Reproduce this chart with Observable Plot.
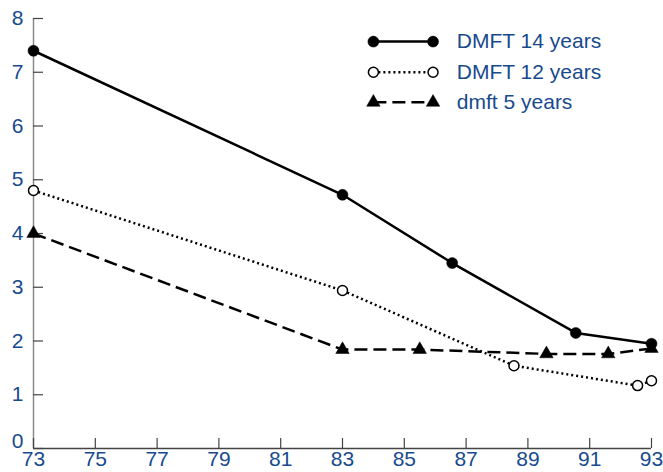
<!DOCTYPE html>
<html>
<head>
<meta charset="utf-8">
<script src="https://cdn.jsdelivr.net/npm/d3@7"></script>
<script src="https://cdn.jsdelivr.net/npm/@observablehq/plot@0.6"></script>
<style>
  body { margin: 0; background: #fff; }
  #chart svg { display: block; }
</style>
</head>
<body>
<div id="chart"></div>
<script>
// ---- data ----
const seriesNames = ["DMFT 14 years", "DMFT 12 years", "dmft 5 years"];
const years14 = [73, 83, 86.55, 90.55, 93];
const values14 = [7.4, 4.72, 3.45, 2.15, 1.95];
const years12 = [73, 83, 88.55, 92.55, 93];
const values12 = [4.8, 2.94, 1.54, 1.17, 1.26];
const years5 = [73, 83, 85.5, 89.6, 91.6, 93];
const values5 = [4.0, 1.84, 1.84, 1.76, 1.76, 1.86];
const xTicks = [73, 75, 77, 79, 81, 83, 85, 87, 89, 91, 93];
const yTicks = [0, 1, 2, 3, 4, 5, 6, 7, 8];

// ---- styling / layout ----
const textColor = "#184a8e";
const font = "'Liberation Sans', Arial, sans-serif";
const styles = {
  "DMFT 14 years": {dash: null, symbol: "circle", fill: "black", r: 5.5},
  "DMFT 12 years": {dash: "2,3", symbol: "circle", fill: "white", r: 5},
  "dmft 5 years": {dash: "13,6", symbol: "triangle", fill: "black", r: 5}
};
// legend placement in data space (top-right)
const legendX1 = 84.0, legendX2 = 85.93, legendTextX = 86.7;
const legendY = [7.57, 7.0, 6.44];

const data = [];
years14.forEach((x, i) => data.push({series: seriesNames[0], x, y: values14[i]}));
years12.forEach((x, i) => data.push({series: seriesNames[1], x, y: values12[i]}));
years5.forEach((x, i) => data.push({series: seriesNames[2], x, y: values5[i]}));

const legend = [];
seriesNames.forEach((s, i) => {
  legend.push({series: s, x: legendX1, y: legendY[i]});
  legend.push({series: s, x: legendX2, y: legendY[i]});
});
const legendText = seriesNames.map((s, i) => ({series: s, x: legendTextX, y: legendY[i]}));

const marks = [
  // axis lines
  Plot.ruleX([73], {y1: 0, y2: 8, stroke: "#8a8a8a", strokeWidth: 1.5}),
  Plot.ruleY([0], {x1: 73, x2: 93, stroke: "#444", strokeWidth: 1.5}),
  // inward ticks
  Plot.ruleY(yTicks, {x1: 73, x2: 73 + 10 / 30.9, stroke: "#444", strokeWidth: 1.2}),
  Plot.ruleX(xTicks, {y1: 0, y2: 10 / 53.75, stroke: "#444", strokeWidth: 1.2}),
  // axis labels
  Plot.axisX({ticks: xTicks, tickSize: 0, tickPadding: 3, fontSize: 21, tickFormat: d => String(d), color: textColor, label: null}),
  Plot.axisY({ticks: yTicks.filter(t => t !== 0), tickSize: 0, tickPadding: 10, fontSize: 21, tickFormat: d => String(d), color: textColor, label: null}),
  Plot.axisY({ticks: [0], tickSize: 0, tickPadding: 10, dy: -7, fontSize: 21, tickFormat: d => String(d), color: textColor, label: null})
];

for (const s of seriesNames) {
  const st = styles[s];
  const sub = data.filter(d => d.series === s);
  const leg = legend.filter(d => d.series === s);
  for (const src of [sub, leg]) {
    marks.push(Plot.line(src, {x: "x", y: "y", stroke: "black", strokeWidth: 2.5, strokeDasharray: st.dash, strokeLinecap: "butt"}));
    marks.push(Plot.dot(src, {x: "x", y: "y", symbol: st.symbol, r: st.r, fill: st.fill, stroke: "black", strokeWidth: st.fill === "white" ? 1.5 : 0.5}));
  }
}
marks.push(Plot.text(legendText, {x: "x", y: "y", text: "series", textAnchor: "start", fontSize: 21, fill: textColor}));

const chart = Plot.plot({
  width: 663,
  height: 472,
  marginLeft: 33,
  marginRight: 12,
  marginTop: 18,
  marginBottom: 24,
  style: {fontFamily: font, color: textColor, background: "white", overflow: "visible"},
  x: {domain: [73, 93], axis: null},
  y: {domain: [0, 8], axis: null},
  marks
});
document.getElementById("chart").appendChild(chart);
</script>
</body>
</html>
